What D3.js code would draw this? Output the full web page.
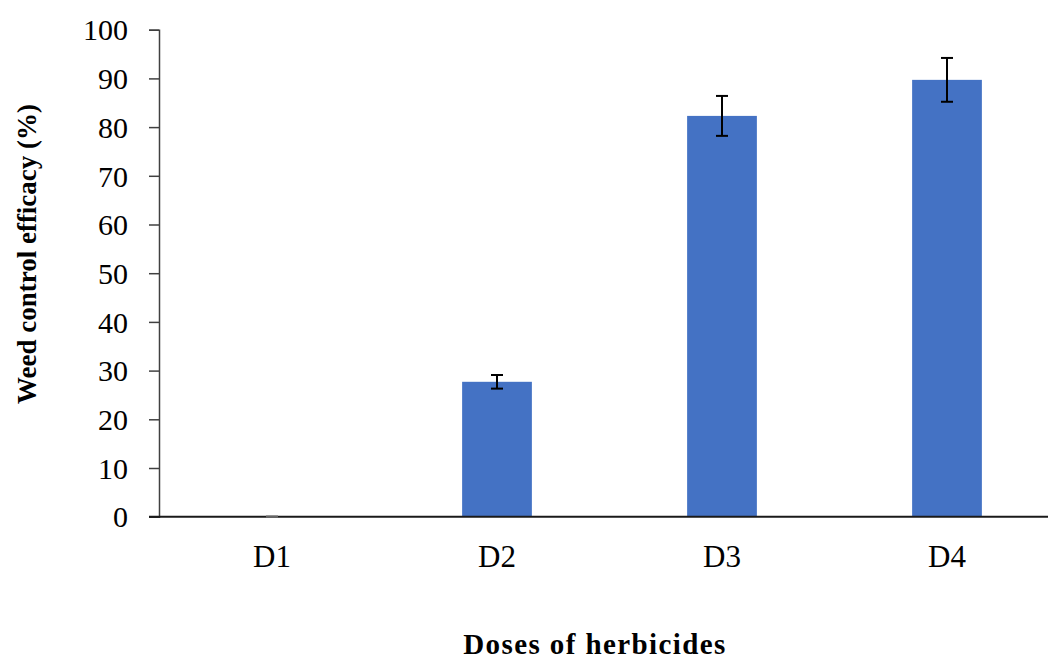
<!DOCTYPE html>
<html>
<head>
<meta charset="utf-8">
<script src="https://cdn.jsdelivr.net/npm/d3@7"></script>
<style>
  body { margin: 0; background: #fff; }
  svg { display: block; font-family: "Liberation Serif", "Times New Roman", serif; }
</style>
</head>
<body>
<div id="chart"></div>
<script>
// data
var doses = ["D1", "D2", "D3", "D4"];
var efficacy = [0, 27.7, 82.3, 89.7];
var errors = [0, 1.4, 4.1, 4.5];
var yTicks = [0, 10, 20, 30, 40, 50, 60, 70, 80, 90, 100];

var width = 1048,
    height = 659;

var svg = d3.select("#chart").append("svg")
    .attr("width", width)
    .attr("height", height);

//scales
var x = d3.scaleBand()
    .domain(doses)
    .range([159.5, 1059.5])
    .paddingInner(0.69)
    .paddingOuter(0.345);

var y = d3.scaleLinear()
    .domain([0, 100])
    .range([516.7, 29.7]);

var rows = doses.map(function(d, i) {
    return { dose: d, value: efficacy[i], err: errors[i] };
});

// bars
svg.append("g").selectAll("rect")
    .data(rows)
    .enter()
    .append("rect")
    .attr("x", function(d) { return x(d.dose); })
    .attr("y", function(d) { return y(d.value); })
    .attr("width", x.bandwidth())
    .attr("height", function(d) { return y(0) - y(d.value); })
    .attr("fill", "#4472C4");

// y axis
var yAxis = svg.append("g")
    .attr("transform", "translate(159,0)")
    .call(d3.axisLeft(y).tickValues(yTicks).tickSize(10).tickPadding(21));
yAxis.select(".domain").attr("stroke", "#404040").attr("stroke-width", 1.5);
yAxis.selectAll(".tick line").attr("stroke", "#404040").attr("stroke-width", 1.5);
yAxis.selectAll(".tick text")
    .attr("font-size", 30)
    .attr("font-family", "Liberation Serif")
    .attr("fill", "#000")
    .attr("dy", "0.34em");

// x axis line (no ticks)
var xAxis = svg.append("g")
    .attr("transform", "translate(0," + y(0) + ")")
    .call(d3.axisBottom(x).tickSize(0).tickPadding(28));
xAxis.select(".domain")
    .attr("d", "M149,0H1060")
    .attr("stroke", "#1a1a1a")
    .attr("stroke-width", 2);
xAxis.selectAll(".tick text")
    .attr("font-size", 31)
    .attr("font-family", "Liberation Serif")
    .attr("fill", "#000")
    .attr("dy", "0.71em");

// error bars
var eb = svg.append("g").selectAll("g")
    .data(rows)
    .enter()
    .append("g")
    .attr("stroke", "#000")
    .attr("stroke-width", 2);

eb.append("line")
    .attr("x1", function(d) { return x(d.dose) + x.bandwidth() / 2; })
    .attr("x2", function(d) { return x(d.dose) + x.bandwidth() / 2; })
    .attr("y1", function(d) { return y(d.value + d.err); })
    .attr("y2", function(d) { return y(d.value - d.err); });

[1, -1].forEach(function(s) {
    eb.append("line")
        .attr("x1", function(d) { return x(d.dose) + x.bandwidth() / 2 - 6; })
        .attr("x2", function(d) { return x(d.dose) + x.bandwidth() / 2 + 6; })
        .attr("y1", function(d) { return y(d.value + s * d.err); })
        .attr("y2", function(d) { return y(d.value + s * d.err); })
        .attr("stroke", function(d) { return d.err === 0 ? "#666" : "#000"; });
});

// axis titles
svg.append("text")
    .attr("transform", "translate(36,254) rotate(-90)")
    .attr("text-anchor", "middle")
    .attr("font-weight", "bold")
    .attr("font-size", 27)
    .text("Weed control efficacy (%)");

svg.append("text")
    .attr("x", 595)
    .attr("y", 654)
    .attr("text-anchor", "middle")
    .attr("font-weight", "bold")
    .attr("font-size", 29)
    .attr("letter-spacing", 1.4)
    .text("Doses of herbicides");
</script>
</body>
</html>
